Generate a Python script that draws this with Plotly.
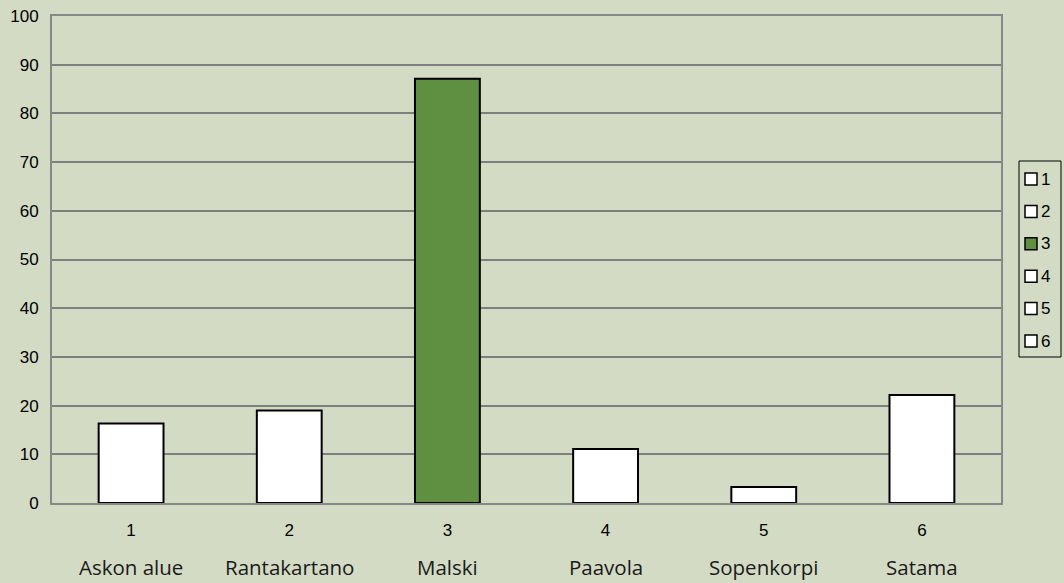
import plotly.graph_objects as go

categories = ["1", "2", "3", "4", "5", "6"]
areas = ["Askon alue", "Rantakartano", "Malski", "Paavola", "Sopenkorpi", "Satama"]
values = [16.3, 19.0, 87.1, 11.1, 3.3, 22.2]
bar_colors = ["#FFFFFF", "#FFFFFF", "#5F8F41", "#FFFFFF", "#FFFFFF", "#FFFFFF"]
y_ticks = [0, 10, 20, 30, 40, 50, 60, 70, 80, 90, 100]

bg = "#D3DBC4"
W, H = 1064, 583
L, R, T, B = 52, 63, 16, 80
pw, ph = W - L - R, H - T - B


def px_x(px):
    return (px - L) / pw


def px_y(py):
    return (H - B - py) / ph


fig = go.Figure()
for cat, val, col in zip(categories, values, bar_colors):
    fig.add_trace(go.Bar(
        x=[cat], y=[val], name=cat,
        width=0.41,
        marker=dict(color=col, line=dict(color="#000000", width=2)),
    ))

# area names under the category numbers (category index positions)
for i, name in enumerate(areas):
    fig.add_annotation(
        x=i, xref="x", y=px_y(567), yref="paper",
        text=name, showarrow=False, yanchor="middle",
        font=dict(family="Open Sans", size=20.5, color="#1A1A1A"),
    )

# legend box drawn like the Excel one
fig.add_shape(type="rect", xref="paper", yref="paper",
              x0=px_x(1019), x1=px_x(1061), y0=px_y(161), y1=px_y(357),
              line=dict(color="#000000", width=1), fillcolor=bg, layer="above")
for i, (cat, col) in enumerate(zip(categories, bar_colors)):
    cy = 179 + i * 32.4
    fig.add_shape(type="rect", xref="paper", yref="paper",
                  x0=px_x(1025), x1=px_x(1037), y0=px_y(cy - 6), y1=px_y(cy + 6),
                  line=dict(color="#000000", width=1.5), fillcolor=col, layer="above")
    fig.add_annotation(
        x=px_x(1039), xref="paper", y=px_y(cy), yref="paper",
        text=cat, showarrow=False, xanchor="left", yanchor="middle",
        font=dict(family="Liberation Sans, Arial", size=17, color="#000000"),
    )

fig.update_layout(
    width=W, height=H,
    margin=dict(l=L, r=R, t=T, b=B),
    paper_bgcolor=bg, plot_bgcolor=bg,
    barmode="overlay",
    showlegend=False,
    font=dict(family="Liberation Sans, Arial", size=17, color="#000000"),
)

fig.update_xaxes(
    type="category", range=[-0.5, 5.5], showgrid=False, automargin=False,
    showline=True, linecolor="#888888", linewidth=2, mirror=True,
    ticks="", ticklabelstandoff=11,
    tickfont=dict(size=17),
)
fig.update_yaxes(
    range=[0, 100], tickvals=y_ticks, automargin=False,
    showgrid=True, gridcolor="#7F7F7F", gridwidth=1.5,
    showline=True, linecolor="#888888", linewidth=2, mirror=True,
    zeroline=False, ticks="", ticklabelstandoff=8,
    tickfont=dict(size=17),
)

fig.write_html(
    "out.html",
    config={"displayModeBar": False},
    post_script="document.body.style.margin='0';document.body.style.background='#D3DBC4';",
)
